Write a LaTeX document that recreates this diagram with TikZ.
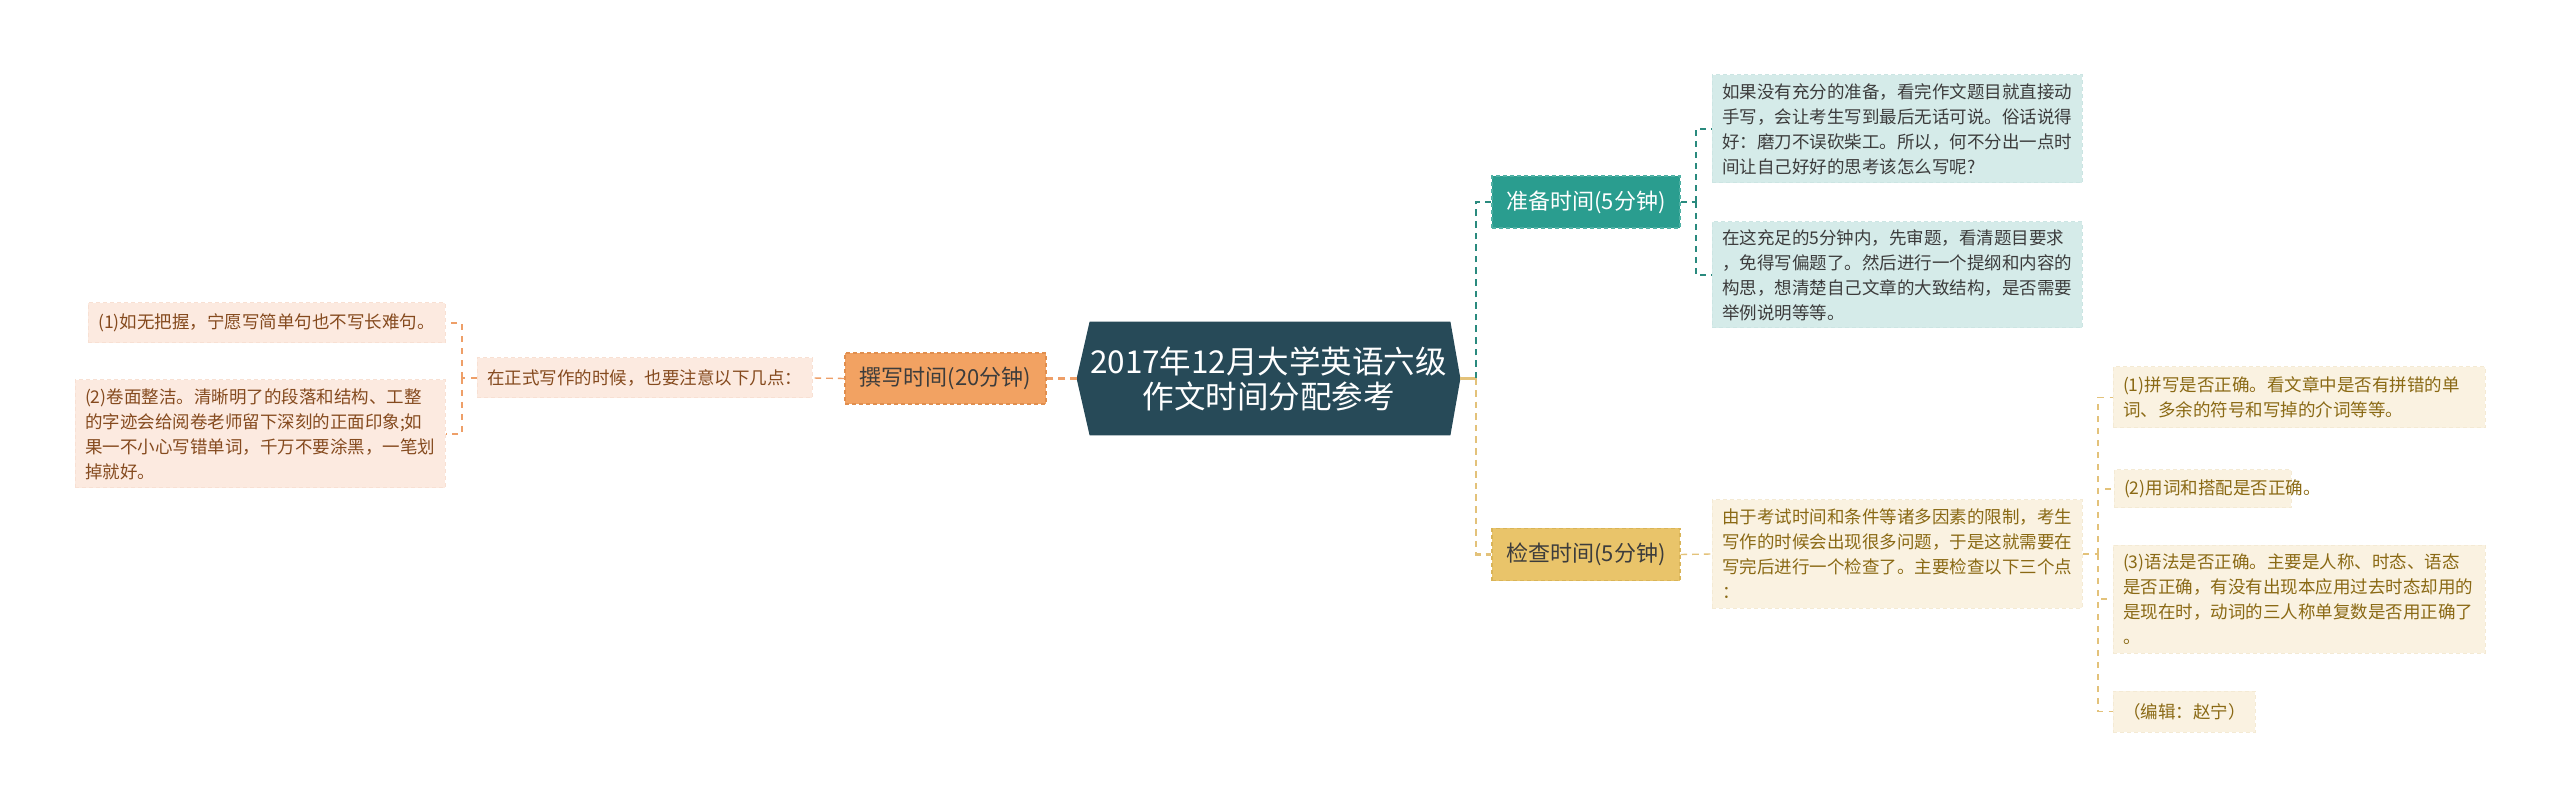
\documentclass[tikz,border=0pt]{standalone}
\usepackage{fontspec}
\setmainfont{Noto Sans CJK SC}
\usetikzlibrary{calc,backgrounds}
\definecolor{dark}{HTML}{274A58}
\definecolor{tealM}{HTML}{2A9D8F}
\definecolor{tealMB}{HTML}{4FB0A4}
\definecolor{tealL}{HTML}{D5EBE9}
\definecolor{tealLB}{HTML}{CCE5E3}
\definecolor{tealC}{HTML}{2A8A7E}
\definecolor{yelM}{HTML}{E9C46A}
\definecolor{yelMB}{HTML}{D9B458}
\definecolor{yelL}{HTML}{FAF2E1}
\definecolor{yelLB}{HTML}{F4EAD4}
\definecolor{yelC}{HTML}{E3C27A}
\definecolor{yelT}{HTML}{8A6914}
\definecolor{orM}{HTML}{F2A262}
\definecolor{orMB}{HTML}{E08E4E}
\definecolor{orL}{HTML}{FCEAE0}
\definecolor{orLB}{HTML}{F8E0D3}
\definecolor{orC}{HTML}{EE9F68}
\definecolor{orT}{HTML}{854A1E}
\definecolor{grayT}{HTML}{3C3C3C}
\begin{document}
\begin{tikzpicture}[x=0.5pt,y=-0.5pt,
  cf/.style={font=\fontsize{8.75pt}{12.5pt}\selectfont},
  mf/.style={font=\fontsize{11pt}{13pt}\selectfont},
  basebox/.style={dashed, dash pattern=on 2pt off 1.5pt, line width=0.5pt, inner xsep=5pt, inner ysep=0pt, align=left, cf},
  pbox/.style={basebox, fill=tealL, draw=tealLB, text=grayT},
  kbox/.style={basebox, fill=yelL, draw=yelLB, text=yelT},
  wbox/.style={basebox, fill=orL, draw=orLB, text=orT},
  mainbox/.style={dashed, dash pattern=on 2pt off 1.5pt, line width=0.6pt, inner sep=0pt, minimum height=26pt, align=center, mf},
  tmain/.style={draw=tealC, line width=1.1pt, dash pattern=on 3.3pt off 2.5pt},
  tsub/.style={draw=tealC, line width=0.7pt, dash pattern=on 3pt off 2.5pt},
  ymain/.style={draw=yelC, line width=1.1pt, dash pattern=on 3.3pt off 2.5pt},
  ysub/.style={draw=yelC, line width=0.6pt, dash pattern=on 3pt off 3pt},
  omain/.style={draw=orC, line width=1.1pt, dash pattern=on 3.3pt off 2.5pt},
  osub/.style={draw=orC, line width=0.6pt, dash pattern=on 3pt off 3pt}]
\useasboundingbox (0,0) rectangle (2560,807);

% central node
\node[text=white, align=center, font=\fontsize{15.75pt}{17.5pt}\selectfont,
      minimum width=191.5pt, minimum height=56.5pt, inner sep=0pt] (c) at (1268.5,378.5)
  {2017年12月大学英语六级\\作文时间分配参考};
\begin{scope}[on background layer]
\fill[dark] (c.west) -- ($(c.north west)+(13,0)$) -- ($(c.north east)+(-10,0)$) -- (c.east)
  -- ($(c.south east)+(-10,0)$) -- ($(c.south west)+(13,0)$) -- cycle;
\end{scope}

% main branches
\node[mainbox, fill=tealM, draw=tealMB, text=white, minimum width=94pt] (p) at (1586,202) {准备时间(5分钟)};
\node[mainbox, fill=yelM, draw=yelMB, text=grayT, minimum width=94pt] (k) at (1586,554.5) {检查时间(5分钟)};
\node[mainbox, fill=orM, draw=orMB, text=grayT, minimum width=100.5pt, minimum height=25.5pt] (w) at (945.5,378.5) {撰写时间(20分钟)};

% teal children
\node[pbox, text width=175pt, minimum height=54pt] (p1) at (1897,129)
  {如果没有充分的准备，看完作文题目就直接动\\手写，会让考生写到最后无话可说。俗话说得\\好：磨刀不误砍柴工。所以，何不分出一点时\\间让自己好好的思考该怎么写呢?};
\node[pbox, text width=175pt, minimum height=53pt] (p2) at (1897,275)
  {在这充足的5分钟内，先审题，看清题目要求\\，免得写偏题了。然后进行一个提纲和内容的\\构思，想清楚自己文章的大致结构，是否需要\\举例说明等等。};

% yellow children
\node[kbox, text width=175pt, minimum height=54pt] (k1) at (1897,554)
  {由于考试时间和条件等诸多因素的限制，考生\\写作的时候会出现很多问题，于是这就需要在\\写完后进行一个检查了。主要检查以下三个点\\：};
\node[kbox, text width=176pt, minimum height=30.5pt] (k2) at (2299,397.5)
  {(1)拼写是否正确。看文章中是否有拼错的单\\词、多余的符号和写掉的介词等等。};
\node[kbox, text width=78.5pt, minimum height=19pt] (k3) at (2202.5,489)
  {(2)用词和搭配是否正确。};
\node[kbox, text width=176pt, minimum height=54pt] (k4) at (2299,599)
  {(3)语法是否正确。主要是人称、时态、语态\\是否正确，有没有出现本应用过去时态却用的\\是现在时，动词的三人称单复数是否用正确了\\。};
\node[kbox, align=center, text width=61pt, minimum height=20.5pt] (k5) at (2184,711.5)
  {（编辑：赵宁）};

% orange children
\node[wbox, align=center, text width=157.5pt, minimum height=20pt] (w1) at (644.5,378)
  {在正式写作的时候，也要注意以下几点：};
\node[wbox, align=center, text width=168.5pt, minimum height=20pt] (w2) at (266.5,323)
  {(1)如无把握，宁愿写简单句也不写长难句。};
\node[wbox, text width=175pt, minimum height=54pt] (w3) at (260,434)
  {(2)卷面整洁。清晰明了的段落和结构、工整\\的字迹会给阅卷老师留下深刻的正面印象;如\\果一不小心写错单词，千万不要涂黑，一笔划\\掉就好。};

% connectors
\coordinate (sR) at (1476,378.5);
\coordinate (sP) at (1696,202);
\coordinate (sK) at (2098,554);
\coordinate (sW) at (462,378);

\draw[draw=yelC, line width=1.1pt] (c.east) -- (sR);
\draw[tmain] (sR) |- (p.west);
\draw[ymain] (sR) |- (k.west);

\draw[tsub] (p.east) -- (sP);
\draw[tsub] (sP) |- (p1.west);
\draw[tsub] (sP) |- (p2.west);

\draw[ymain, line width=0.7pt] (k.east) -- (k1.west);
\draw[ysub] (k1.east) -- (sK);
\draw[ysub] (sK) |- (k2.west);
\draw[ysub] (sK) |- (k3.west);
\draw[ysub] (sK) |- (k4.west);
\draw[ysub] (sK) |- (k5.west);

\draw[omain] (c.west) -- (w.east);
\draw[omain, line width=0.7pt] (w.west) -- (w1.east);
\draw[osub] (w1.west) -- (sW);
\draw[osub] (sW) |- (w2.east);
\draw[osub] (sW) |- (w3.east);
\end{tikzpicture}
\end{document}
